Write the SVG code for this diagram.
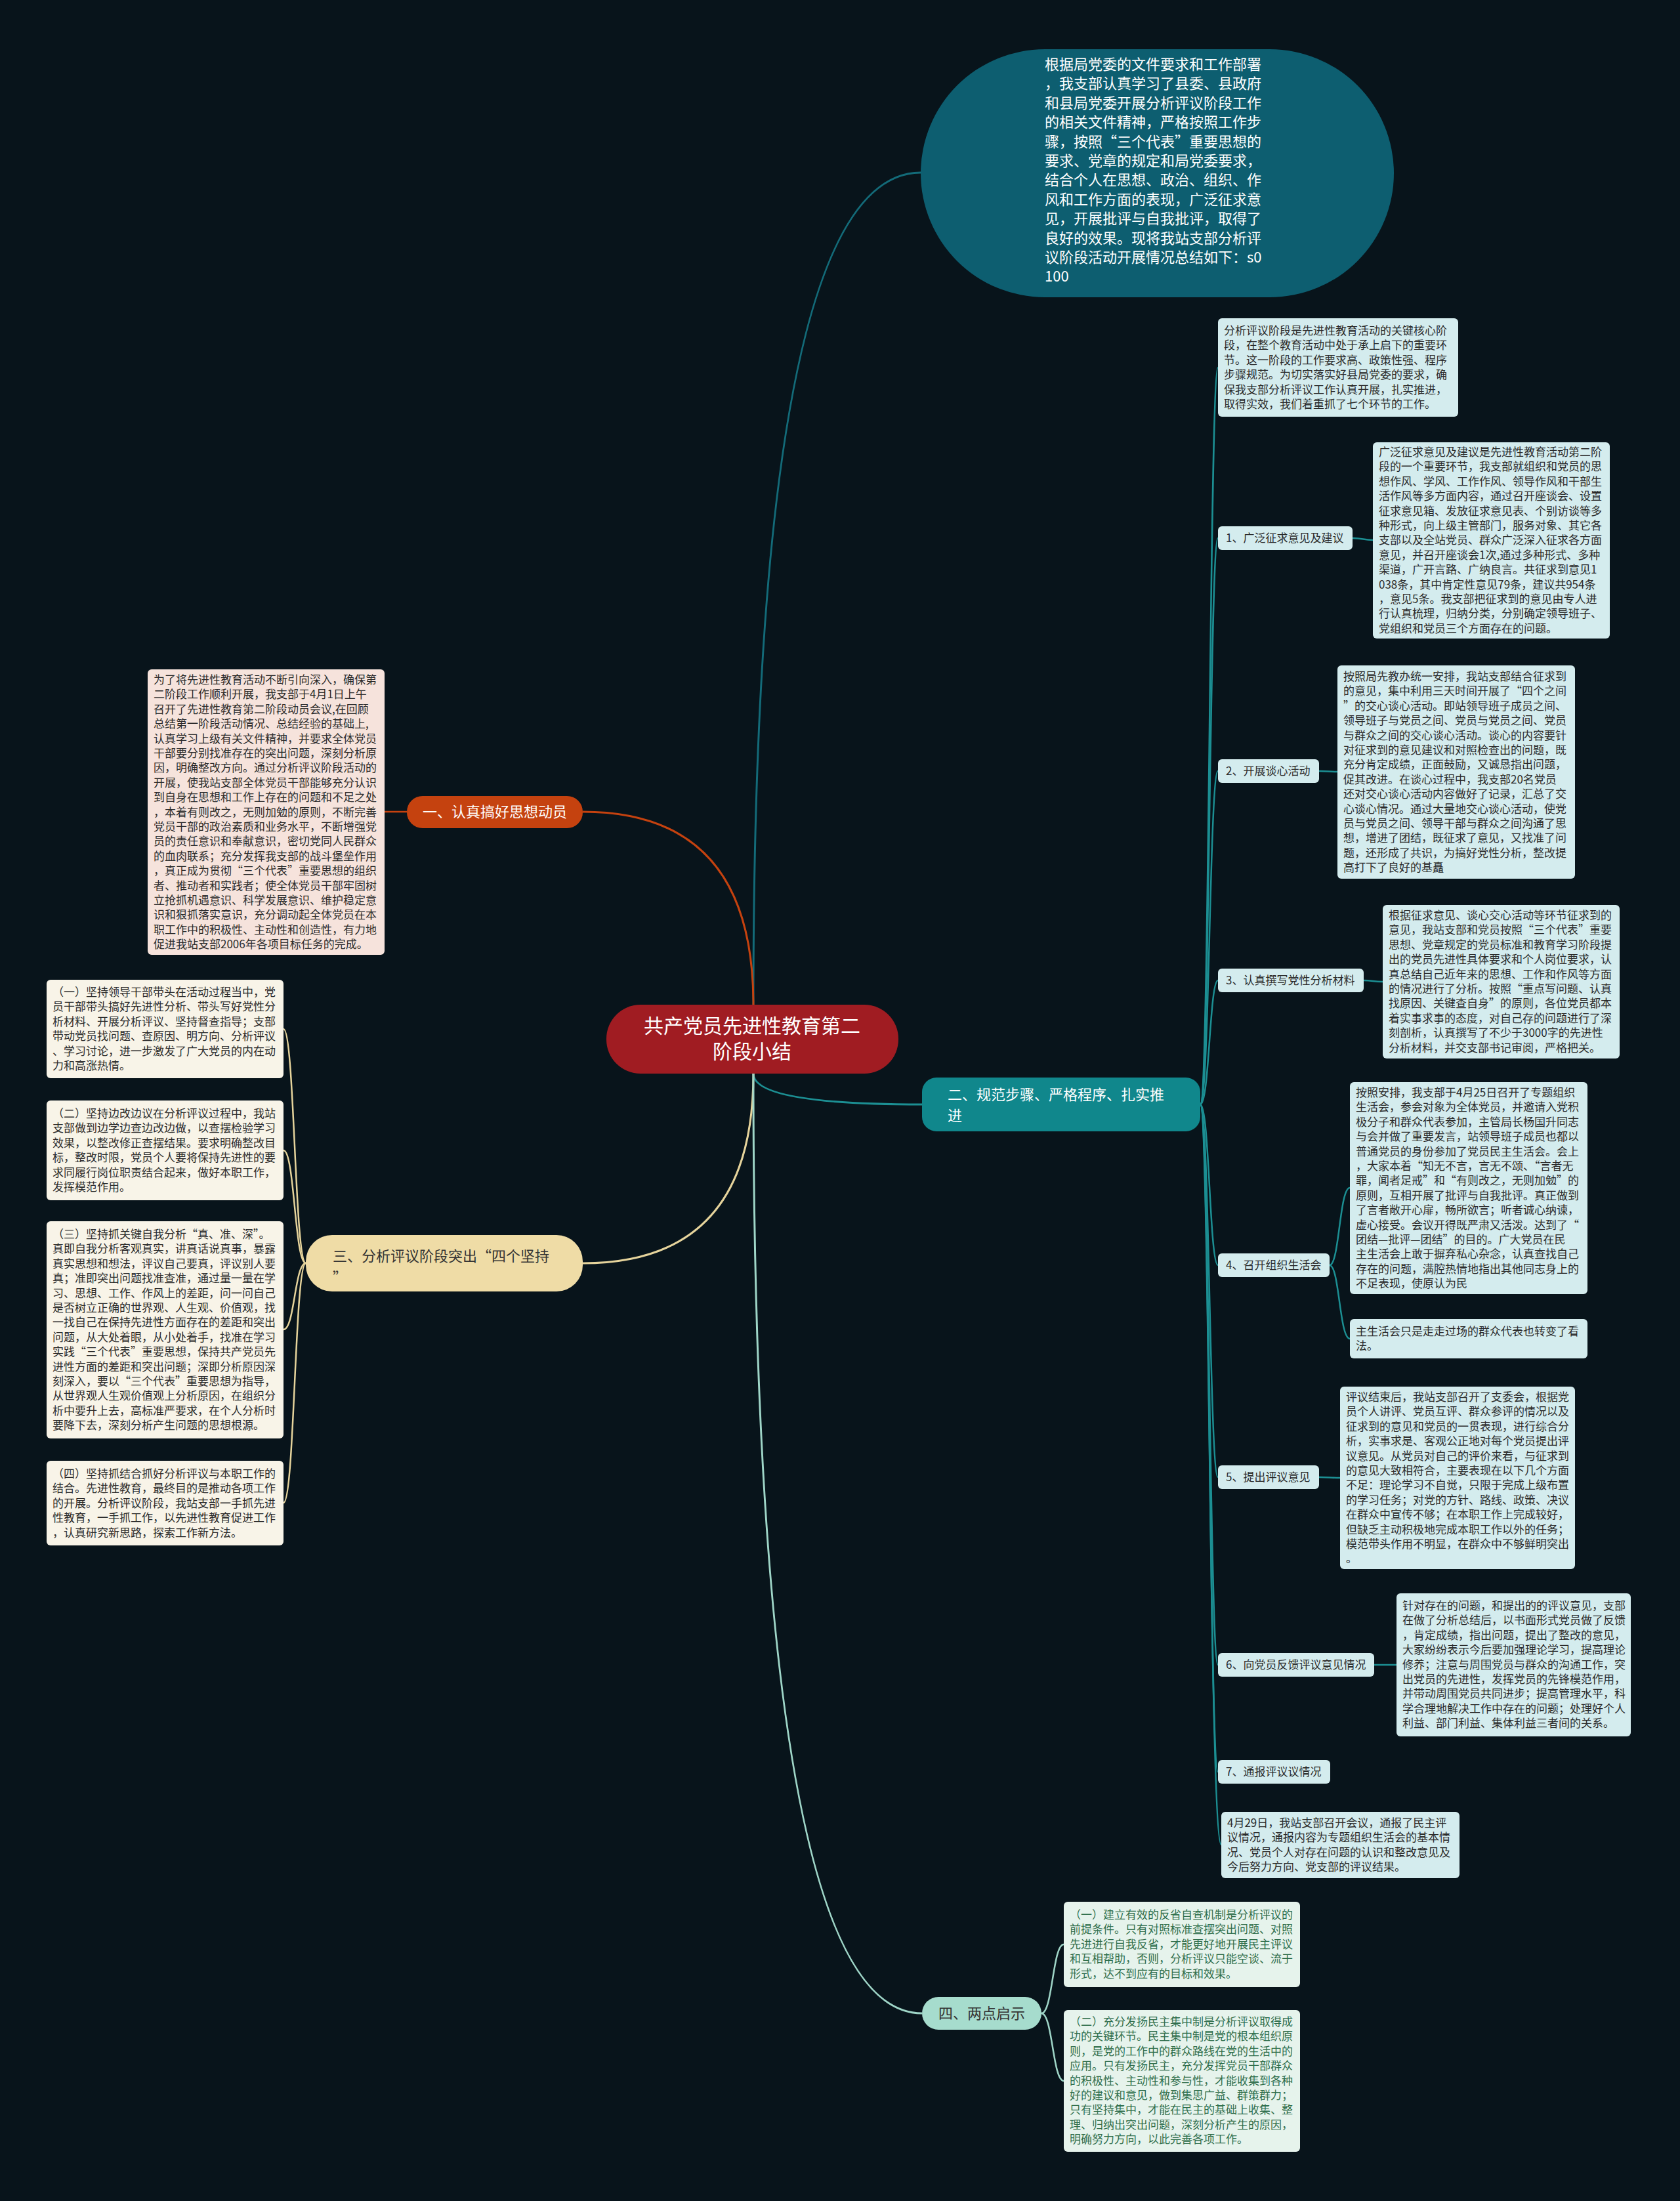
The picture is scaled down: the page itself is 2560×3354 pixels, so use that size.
<svg xmlns="http://www.w3.org/2000/svg" width="2560" height="3354" viewBox="0 0 2560 3354">
<style>
text{font-family:"Noto Sans CJK SC","Noto Sans",sans-serif;}
.bg{fill:#08141b;}
.b17{font-size:17px;fill:#2b2b2b;}
.g17{font-size:17px;fill:#2f6e4b;}
.w22{font-size:22px;fill:#ffffff;}
.d22{font-size:22px;fill:#333333;}
.cy{fill:#d4ecee;}
.pk{fill:#f6e3dc;}
.bj{fill:#f8f4e8;}
.mt{fill:#e6f3ec;}
.c2{fill:none;stroke:#1c8f93;stroke-width:2.5;}
.c3{fill:none;stroke:#e6d49c;stroke-width:2.5;}
.c4{fill:none;stroke:#9fd6c8;stroke-width:2.5;}
</style>
<rect class="bg" x="0" y="0" width="2560" height="3354"/>

<g id="connectors">
  <path d="M1148 1531 Q1148 263 1403 263" fill="none" stroke="#136b79" stroke-width="3"/>
  <path d="M1148 1531 Q1148 1237 888 1237" fill="none" stroke="#c5420f" stroke-width="3"/>
  <path d="M1148 1636 Q1148 1683 1405 1683" fill="none" stroke="#1c8f93" stroke-width="3"/>
  <path d="M1148 1636 Q1148 1925 888 1925" fill="none" stroke="#e6d49c" stroke-width="3"/>
  <path d="M1148 1636 Q1148 3068 1405 3068" fill="none" stroke="#9fd6c8" stroke-width="3"/>
  <path d="M620 1237 L586 1237" fill="none" stroke="#c5420f" stroke-width="2.5"/>
  <path class="c2" d="M1829 1683 C1843 1683 1843 560 1856 560"/>
  <path class="c2" d="M1829 1683 C1843 1683 1843 820 1856 820"/>
  <path class="c2" d="M1829 1683 C1843 1683 1843 1175 1856 1175"/>
  <path class="c2" d="M1829 1683 C1843 1683 1843 1494 1856 1494"/>
  <path class="c2" d="M1829 1683 C1843 1683 1843 1928 1856 1928"/>
  <path class="c2" d="M1829 1683 C1843 1683 1843 2251 1856 2251"/>
  <path class="c2" d="M1829 1683 C1843 1683 1843 2537 1856 2537"/>
  <path class="c2" d="M1829 1683 C1843 1683 1843 2700 1856 2700"/>
  <path class="c2" d="M1829 1683 C1843 1683 1843 2811 1861 2811"/>
  <path class="c2" d="M2061 820 C2077 820 2077 823 2092 823"/>
  <path class="c2" d="M2010 1175 C2024 1175 2024 1176 2038 1176"/>
  <path class="c2" d="M2078 1494 C2092 1494 2092 1496 2107 1496"/>
  <path class="c2" d="M2026 1928 C2041 1928 2041 1810 2057 1810"/>
  <path class="c2" d="M2026 1928 C2041 1928 2041 2040 2057 2040"/>
  <path class="c2" d="M2010 2251 C2026 2251 2026 2252 2042 2252"/>
  <path class="c2" d="M2094 2537 C2111 2537 2111 2537 2128 2537"/>
  <path class="c3" d="M466 1925 C449 1925 449 1568 432 1568"/>
  <path class="c3" d="M466 1925 C449 1925 449 1753 432 1753"/>
  <path class="c3" d="M466 1925 C449 1925 449 2026 432 2026"/>
  <path class="c3" d="M466 1925 C449 1925 449 2290 432 2290"/>
  <path class="c4" d="M1587 3068 C1604 3068 1604 2963 1621 2963"/>
  <path class="c4" d="M1587 3068 C1604 3068 1604 3171 1621 3171"/>
</g>

<g id="center">
  <rect x="924" y="1531" width="445" height="105" rx="52" fill="#a01c22"/>
  <text x="1146" y="1574" text-anchor="middle" font-size="30" fill="#ffffff">共产党员先进性教育第二</text>
  <text x="1146" y="1613" text-anchor="middle" font-size="30" fill="#ffffff">阶段小结</text>
</g>

<g id="intro">
  <rect x="1403" y="75" width="721" height="378" rx="189" fill="#0d5e70"/>
  <text class="w22" x="1592" y="106">
    <tspan x="1592">根据局党委的文件要求和工作部署</tspan>
    <tspan x="1592" dy="29.4">，我支部认真学习了县委、县政府</tspan>
    <tspan x="1592" dy="29.4">和县局党委开展分析评议阶段工作</tspan>
    <tspan x="1592" dy="29.4">的相关文件精神，严格按照工作步</tspan>
    <tspan x="1592" dy="29.4">骤，按照“三个代表”重要思想的</tspan>
    <tspan x="1592" dy="29.4">要求、党章的规定和局党委要求，</tspan>
    <tspan x="1592" dy="29.4">结合个人在思想、政治、组织、作</tspan>
    <tspan x="1592" dy="29.4">风和工作方面的表现，广泛征求意</tspan>
    <tspan x="1592" dy="29.4">见，开展批评与自我批评，取得了</tspan>
    <tspan x="1592" dy="29.4">良好的效果。现将我站支部分析评</tspan>
    <tspan x="1592" dy="29.4">议阶段活动开展情况总结如下：s0</tspan>
    <tspan x="1592" dy="29.4">100</tspan>
  </text>
</g>

<g id="branch1">
  <rect x="620" y="1213" width="268" height="49" rx="24" fill="#c5420f"/>
  <text class="w22" x="754" y="1245" text-anchor="middle">一、认真搞好思想动员</text>
</g>
<g id="b1-detail">
  <rect class="pk" x="225" y="1020" width="361" height="435" rx="6"/>
  <text class="b17" x="234" y="1042">
    <tspan x="234">为了将先进性教育活动不断引向深入，确保第</tspan>
    <tspan x="234" dy="22.4">二阶段工作顺利开展，我支部于4月1日上午</tspan>
    <tspan x="234" dy="22.4">召开了先进性教育第二阶段动员会议,在回顾</tspan>
    <tspan x="234" dy="22.4">总结第一阶段活动情况、总结经验的基础上,</tspan>
    <tspan x="234" dy="22.4">认真学习上级有关文件精神，并要求全体党员</tspan>
    <tspan x="234" dy="22.4">干部要分别找准存在的突出问题，深刻分析原</tspan>
    <tspan x="234" dy="22.4">因，明确整改方向。通过分析评议阶段活动的</tspan>
    <tspan x="234" dy="22.4">开展，使我站支部全体党员干部能够充分认识</tspan>
    <tspan x="234" dy="22.4">到自身在思想和工作上存在的问题和不足之处</tspan>
    <tspan x="234" dy="22.4">，本着有则改之，无则加勉的原则，不断完善</tspan>
    <tspan x="234" dy="22.4">党员干部的政治素质和业务水平，不断增强党</tspan>
    <tspan x="234" dy="22.4">员的责任意识和奉献意识，密切党同人民群众</tspan>
    <tspan x="234" dy="22.4">的血肉联系；充分发挥我支部的战斗堡垒作用</tspan>
    <tspan x="234" dy="22.4">，真正成为贯彻“三个代表”重要思想的组织</tspan>
    <tspan x="234" dy="22.4">者、推动者和实践者；使全体党员干部牢固树</tspan>
    <tspan x="234" dy="22.4">立抢抓机遇意识、科学发展意识、维护稳定意</tspan>
    <tspan x="234" dy="22.4">识和狠抓落实意识，充分调动起全体党员在本</tspan>
    <tspan x="234" dy="22.4">职工作中的积极性、主动性和创造性，有力地</tspan>
    <tspan x="234" dy="22.4">促进我站支部2006年各项目标任务的完成。</tspan>
  </text>
</g>

<g id="branch2">
  <rect x="1405" y="1642" width="424" height="82" rx="22" fill="#10878c"/>
  <text class="w22" x="1444" y="1676">
    <tspan x="1444">二、规范步骤、严格程序、扎实推</tspan>
    <tspan x="1444" dy="32">进</tspan>
  </text>
</g>
<g id="b2-intro">
  <rect class="cy" x="1856" y="485" width="366" height="150" rx="6"/>
  <text class="b17" x="1865" y="510">
    <tspan x="1865">分析评议阶段是先进性教育活动的关键核心阶</tspan>
    <tspan x="1865" dy="22.4">段，在整个教育活动中处于承上启下的重要环</tspan>
    <tspan x="1865" dy="22.4">节。这一阶段的工作要求高、政策性强、程序</tspan>
    <tspan x="1865" dy="22.4">步骤规范。为切实落实好县局党委的要求，确</tspan>
    <tspan x="1865" dy="22.4">保我支部分析评议工作认真开展，扎实推进，</tspan>
    <tspan x="1865" dy="22.4">取得实效，我们着重抓了七个环节的工作。</tspan>
  </text>
</g>
<g id="step1">
  <rect class="cy" x="1856" y="802" width="205" height="36" rx="6"/>
  <text class="b17" x="1868" y="826">1、广泛征求意见及建议</text>
</g>
<g id="step1-detail">
  <rect class="cy" x="2092" y="674" width="361" height="299" rx="6"/>
  <text class="b17" x="2101" y="695">
    <tspan x="2101">广泛征求意见及建议是先进性教育活动第二阶</tspan>
    <tspan x="2101" dy="22.4">段的一个重要环节，我支部就组织和党员的思</tspan>
    <tspan x="2101" dy="22.4">想作风、学风、工作作风、领导作风和干部生</tspan>
    <tspan x="2101" dy="22.4">活作风等多方面内容，通过召开座谈会、设置</tspan>
    <tspan x="2101" dy="22.4">征求意见箱、发放征求意见表、个别访谈等多</tspan>
    <tspan x="2101" dy="22.4">种形式，向上级主管部门，服务对象、其它各</tspan>
    <tspan x="2101" dy="22.4">支部以及全站党员、群众广泛深入征求各方面</tspan>
    <tspan x="2101" dy="22.4">意见，并召开座谈会1次,通过多种形式、多种</tspan>
    <tspan x="2101" dy="22.4">渠道，广开言路、广纳良言。共征求到意见1</tspan>
    <tspan x="2101" dy="22.4">038条，其中肯定性意见79条，建议共954条</tspan>
    <tspan x="2101" dy="22.4">，意见5条。我支部把征求到的意见由专人进</tspan>
    <tspan x="2101" dy="22.4">行认真梳理，归纳分类，分别确定领导班子、</tspan>
    <tspan x="2101" dy="22.4">党组织和党员三个方面存在的问题。</tspan>
  </text>
</g>
<g id="step2">
  <rect class="cy" x="1856" y="1157" width="154" height="36" rx="6"/>
  <text class="b17" x="1868" y="1181">2、开展谈心活动</text>
</g>
<g id="step2-detail">
  <rect class="cy" x="2038" y="1014" width="362" height="325" rx="6"/>
  <text class="b17" x="2047" y="1037">
    <tspan x="2047">按照局先教办统一安排，我站支部结合征求到</tspan>
    <tspan x="2047" dy="22.4">的意见，集中利用三天时间开展了“四个之间</tspan>
    <tspan x="2047" dy="22.4">”的交心谈心活动。即站领导班子成员之间、</tspan>
    <tspan x="2047" dy="22.4">领导班子与党员之间、党员与党员之间、党员</tspan>
    <tspan x="2047" dy="22.4">与群众之间的交心谈心活动。谈心的内容要针</tspan>
    <tspan x="2047" dy="22.4">对征求到的意见建议和对照检查出的问题，既</tspan>
    <tspan x="2047" dy="22.4">充分肯定成绩，正面鼓励，又诚恳指出问题，</tspan>
    <tspan x="2047" dy="22.4">促其改进。在谈心过程中，我支部20名党员</tspan>
    <tspan x="2047" dy="22.4">还对交心谈心活动内容做好了记录，汇总了交</tspan>
    <tspan x="2047" dy="22.4">心谈心情况。通过大量地交心谈心活动，使党</tspan>
    <tspan x="2047" dy="22.4">员与党员之间、领导干部与群众之间沟通了思</tspan>
    <tspan x="2047" dy="22.4">想，增进了团结，既征求了意见，又找准了问</tspan>
    <tspan x="2047" dy="22.4">题，还形成了共识，为搞好党性分析，整改提</tspan>
    <tspan x="2047" dy="22.4">高打下了良好的基矗</tspan>
  </text>
</g>
<g id="step3">
  <rect class="cy" x="1856" y="1476" width="222" height="36" rx="6"/>
  <text class="b17" x="1868" y="1500">3、认真撰写党性分析材料</text>
</g>
<g id="step3-detail">
  <rect class="cy" x="2107" y="1379" width="361" height="234" rx="6"/>
  <text class="b17" x="2116" y="1401">
    <tspan x="2116">根据征求意见、谈心交心活动等环节征求到的</tspan>
    <tspan x="2116" dy="22.4">意见，我站支部和党员按照“三个代表”重要</tspan>
    <tspan x="2116" dy="22.4">思想、党章规定的党员标准和教育学习阶段提</tspan>
    <tspan x="2116" dy="22.4">出的党员先进性具体要求和个人岗位要求，认</tspan>
    <tspan x="2116" dy="22.4">真总结自己近年来的思想、工作和作风等方面</tspan>
    <tspan x="2116" dy="22.4">的情况进行了分析。按照“重点写问题、认真</tspan>
    <tspan x="2116" dy="22.4">找原因、关键查自身”的原则，各位党员都本</tspan>
    <tspan x="2116" dy="22.4">着实事求事的态度，对自己存的问题进行了深</tspan>
    <tspan x="2116" dy="22.4">刻剖析，认真撰写了不少于3000字的先进性</tspan>
    <tspan x="2116" dy="22.4">分析材料，并交支部书记审阅，严格把关。</tspan>
  </text>
</g>
<g id="step4">
  <rect class="cy" x="1856" y="1910" width="170" height="36" rx="6"/>
  <text class="b17" x="1868" y="1934">4、召开组织生活会</text>
</g>
<g id="step4-detail">
  <rect class="cy" x="2057" y="1649" width="362" height="323" rx="6"/>
  <text class="b17" x="2066" y="1671">
    <tspan x="2066">按照安排，我支部于4月25日召开了专题组织</tspan>
    <tspan x="2066" dy="22.4">生活会，参会对象为全体党员，并邀请入党积</tspan>
    <tspan x="2066" dy="22.4">极分子和群众代表参加，主管局长杨国升同志</tspan>
    <tspan x="2066" dy="22.4">与会并做了重要发言，站领导班子成员也都以</tspan>
    <tspan x="2066" dy="22.4">普通党员的身份参加了党员民主生活会。会上</tspan>
    <tspan x="2066" dy="22.4">，大家本着“知无不言，言无不颂、“言者无</tspan>
    <tspan x="2066" dy="22.4">罪，闻者足戒”和“有则改之，无则加勉”的</tspan>
    <tspan x="2066" dy="22.4">原则，互相开展了批评与自我批评。真正做到</tspan>
    <tspan x="2066" dy="22.4">了言者敞开心扉，畅所欲言；听者诚心纳谏，</tspan>
    <tspan x="2066" dy="22.4">虚心接受。会议开得既严肃又活泼。达到了“</tspan>
    <tspan x="2066" dy="22.4">团结—批评—团结”的目的。广大党员在民</tspan>
    <tspan x="2066" dy="22.4">主生活会上敢于摒弃私心杂念，认真查找自己</tspan>
    <tspan x="2066" dy="22.4">存在的问题，满腔热情地指出其他同志身上的</tspan>
    <tspan x="2066" dy="22.4">不足表现，使原认为民</tspan>
  </text>
</g>
<g id="step4-detail2">
  <rect class="cy" x="2057" y="2010" width="362" height="60" rx="6"/>
  <text class="b17" x="2066" y="2035">
    <tspan x="2066">主生活会只是走走过场的群众代表也转变了看</tspan>
    <tspan x="2066" dy="22.4">法。</tspan>
  </text>
</g>
<g id="step5">
  <rect class="cy" x="1856" y="2233" width="154" height="36" rx="6"/>
  <text class="b17" x="1868" y="2257">5、提出评议意见</text>
</g>
<g id="step5-detail">
  <rect class="cy" x="2042" y="2113" width="358" height="278" rx="6"/>
  <text class="b17" x="2051" y="2135">
    <tspan x="2051">评议结束后，我站支部召开了支委会，根据党</tspan>
    <tspan x="2051" dy="22.4">员个人讲评、党员互评、群众参评的情况以及</tspan>
    <tspan x="2051" dy="22.4">征求到的意见和党员的一贯表现，进行综合分</tspan>
    <tspan x="2051" dy="22.4">析，实事求是、客观公正地对每个党员提出评</tspan>
    <tspan x="2051" dy="22.4">议意见。从党员对自己的评价来看，与征求到</tspan>
    <tspan x="2051" dy="22.4">的意见大致相符合，主要表现在以下几个方面</tspan>
    <tspan x="2051" dy="22.4">不足：理论学习不自觉，只限于完成上级布置</tspan>
    <tspan x="2051" dy="22.4">的学习任务；对党的方针、路线、政策、决议</tspan>
    <tspan x="2051" dy="22.4">在群众中宣传不够；在本职工作上完成较好，</tspan>
    <tspan x="2051" dy="22.4">但缺乏主动积极地完成本职工作以外的任务；</tspan>
    <tspan x="2051" dy="22.4">模范带头作用不明显，在群众中不够鲜明突出</tspan>
    <tspan x="2051" dy="22.4">。</tspan>
  </text>
</g>
<g id="step6">
  <rect class="cy" x="1856" y="2519" width="238" height="36" rx="6"/>
  <text class="b17" x="1868" y="2543">6、向党员反馈评议意见情况</text>
</g>
<g id="step6-detail">
  <rect class="cy" x="2128" y="2428" width="357" height="218" rx="6"/>
  <text class="b17" x="2137" y="2453">
    <tspan x="2137">针对存在的问题，和提出的的评议意见，支部</tspan>
    <tspan x="2137" dy="22.4">在做了分析总结后，以书面形式党员做了反馈</tspan>
    <tspan x="2137" dy="22.4">，肯定成绩，指出问题，提出了整改的意见，</tspan>
    <tspan x="2137" dy="22.4">大家纷纷表示今后要加强理论学习，提高理论</tspan>
    <tspan x="2137" dy="22.4">修养；注意与周围党员与群众的沟通工作，突</tspan>
    <tspan x="2137" dy="22.4">出党员的先进性，发挥党员的先锋模范作用，</tspan>
    <tspan x="2137" dy="22.4">并带动周围党员共同进步；提高管理水平，科</tspan>
    <tspan x="2137" dy="22.4">学合理地解决工作中存在的问题；处理好个人</tspan>
    <tspan x="2137" dy="22.4">利益、部门利益、集体利益三者间的关系。</tspan>
  </text>
</g>
<g id="step7">
  <rect class="cy" x="1856" y="2682" width="171" height="36" rx="6"/>
  <text class="b17" x="1868" y="2706">7、通报评议议情况</text>
</g>
<g id="b2-report">
  <rect class="cy" x="1861" y="2761" width="363" height="101" rx="6"/>
  <text class="b17" x="1870" y="2784">
    <tspan x="1870">4月29日，我站支部召开会议，通报了民主评</tspan>
    <tspan x="1870" dy="22.4">议情况，通报内容为专题组织生活会的基本情</tspan>
    <tspan x="1870" dy="22.4">况、党员个人对存在问题的认识和整改意见及</tspan>
    <tspan x="1870" dy="22.4">今后努力方向、党支部的评议结果。</tspan>
  </text>
</g>

<g id="branch3">
  <rect x="466" y="1882" width="422" height="86" rx="40" fill="#efdca6"/>
  <text class="d22" x="507" y="1922">
    <tspan x="507">三、分析评议阶段突出“四个坚持</tspan>
    <tspan x="507" dy="33">”</tspan>
  </text>
</g>
<g id="b3-1">
  <rect class="bj" x="71" y="1493" width="361" height="150" rx="6"/>
  <text class="b17" x="80" y="1518">
    <tspan x="80">（一）坚持领导干部带头在活动过程当中，党</tspan>
    <tspan x="80" dy="22.4">员干部带头搞好先进性分析、带头写好党性分</tspan>
    <tspan x="80" dy="22.4">析材料、开展分析评议、坚持督查指导；支部</tspan>
    <tspan x="80" dy="22.4">带动党员找问题、查原因、明方向、分析评议</tspan>
    <tspan x="80" dy="22.4">、学习讨论，进一步激发了广大党员的内在动</tspan>
    <tspan x="80" dy="22.4">力和高涨热情。</tspan>
  </text>
</g>
<g id="b3-2">
  <rect class="bj" x="71" y="1677" width="361" height="152" rx="6"/>
  <text class="b17" x="80" y="1703">
    <tspan x="80">（二）坚持边改边议在分析评议过程中，我站</tspan>
    <tspan x="80" dy="22.4">支部做到边学边查边改边做，以查摆检验学习</tspan>
    <tspan x="80" dy="22.4">效果，以整改修正查摆结果。要求明确整改目</tspan>
    <tspan x="80" dy="22.4">标，整改时限，党员个人要将保持先进性的要</tspan>
    <tspan x="80" dy="22.4">求同履行岗位职责结合起来，做好本职工作，</tspan>
    <tspan x="80" dy="22.4">发挥模范作用。</tspan>
  </text>
</g>
<g id="b3-3">
  <rect class="bj" x="71" y="1861" width="361" height="331" rx="6"/>
  <text class="b17" x="80" y="1887">
    <tspan x="80">（三）坚持抓关键自我分析“真、准、深”。</tspan>
    <tspan x="80" dy="22.4">真即自我分析客观真实，讲真话说真事，暴露</tspan>
    <tspan x="80" dy="22.4">真实思想和想法，评议自己要真，评议别人要</tspan>
    <tspan x="80" dy="22.4">真；准即突出问题找准查准，通过量一量在学</tspan>
    <tspan x="80" dy="22.4">习、思想、工作、作风上的差距，问一问自己</tspan>
    <tspan x="80" dy="22.4">是否树立正确的世界观、人生观、价值观，找</tspan>
    <tspan x="80" dy="22.4">一找自己在保持先进性方面存在的差距和突出</tspan>
    <tspan x="80" dy="22.4">问题，从大处着眼，从小处着手，找准在学习</tspan>
    <tspan x="80" dy="22.4">实践“三个代表”重要思想，保持共产党员先</tspan>
    <tspan x="80" dy="22.4">进性方面的差距和突出问题；深即分析原因深</tspan>
    <tspan x="80" dy="22.4">刻深入，要以“三个代表”重要思想为指导，</tspan>
    <tspan x="80" dy="22.4">从世界观人生观价值观上分析原因，在组织分</tspan>
    <tspan x="80" dy="22.4">析中要升上去，高标准严要求，在个人分析时</tspan>
    <tspan x="80" dy="22.4">要降下去，深刻分析产生问题的思想根源。</tspan>
  </text>
</g>
<g id="b3-4">
  <rect class="bj" x="71" y="2226" width="361" height="129" rx="6"/>
  <text class="b17" x="80" y="2252">
    <tspan x="80">（四）坚持抓结合抓好分析评议与本职工作的</tspan>
    <tspan x="80" dy="22.4">结合。先进性教育，最终目的是推动各项工作</tspan>
    <tspan x="80" dy="22.4">的开展。分析评议阶段，我站支部一手抓先进</tspan>
    <tspan x="80" dy="22.4">性教育，一手抓工作，以先进性教育促进工作</tspan>
    <tspan x="80" dy="22.4">，认真研究新思路，探索工作新方法。</tspan>
  </text>
</g>

<g id="branch4">
  <rect x="1405" y="3043" width="182" height="50" rx="25" fill="#a6dccd"/>
  <text class="d22" x="1496" y="3076" text-anchor="middle" fill="#2c5a50">四、两点启示</text>
</g>
<g id="b4-1">
  <rect class="mt" x="1621" y="2898" width="360" height="130" rx="6"/>
  <text class="g17" x="1630" y="2924">
    <tspan x="1630">（一）建立有效的反省自查机制是分析评议的</tspan>
    <tspan x="1630" dy="22.4">前提条件。只有对照标准查摆突出问题、对照</tspan>
    <tspan x="1630" dy="22.4">先进进行自我反省，才能更好地开展民主评议</tspan>
    <tspan x="1630" dy="22.4">和互相帮助，否则，分析评议只能空谈、流于</tspan>
    <tspan x="1630" dy="22.4">形式，达不到应有的目标和效果。</tspan>
  </text>
</g>
<g id="b4-2">
  <rect class="mt" x="1621" y="3063" width="360" height="216" rx="6"/>
  <text class="g17" x="1630" y="3087">
    <tspan x="1630">（二）充分发扬民主集中制是分析评议取得成</tspan>
    <tspan x="1630" dy="22.4">功的关键环节。民主集中制是党的根本组织原</tspan>
    <tspan x="1630" dy="22.4">则，是党的工作中的群众路线在党的生活中的</tspan>
    <tspan x="1630" dy="22.4">应用。只有发扬民主，充分发挥党员干部群众</tspan>
    <tspan x="1630" dy="22.4">的积极性、主动性和参与性，才能收集到各种</tspan>
    <tspan x="1630" dy="22.4">好的建议和意见，做到集思广益、群策群力；</tspan>
    <tspan x="1630" dy="22.4">只有坚持集中，才能在民主的基础上收集、整</tspan>
    <tspan x="1630" dy="22.4">理、归纳出突出问题，深刻分析产生的原因，</tspan>
    <tspan x="1630" dy="22.4">明确努力方向，以此完善各项工作。</tspan>
  </text>
</g>
</svg>
